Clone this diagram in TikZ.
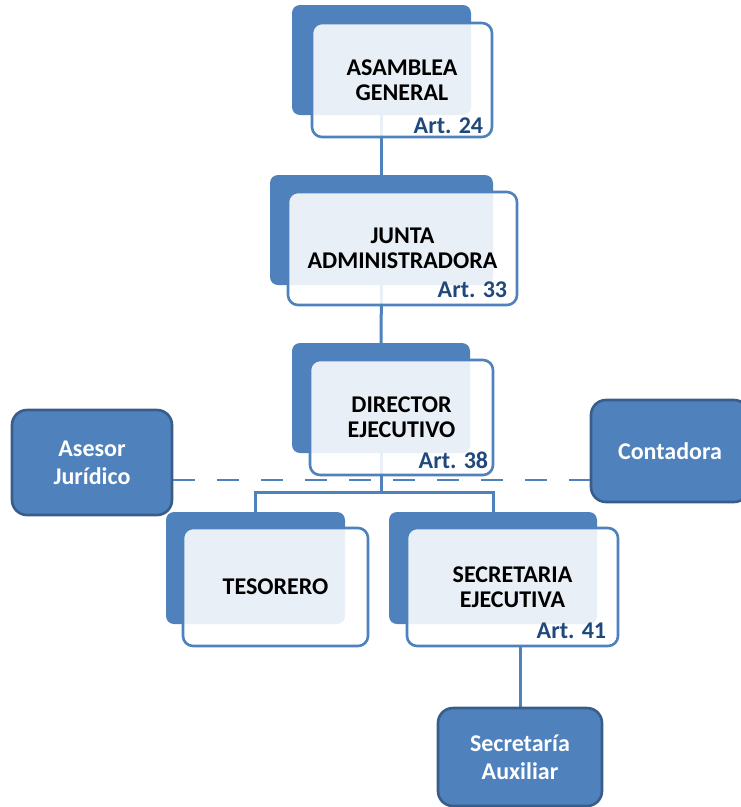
\documentclass[tikz,border=0pt]{standalone}
\usepackage{fontspec}
\setmainfont{Carlito}
\usetikzlibrary{backgrounds}
\definecolor{ofblue}{HTML}{4F81BD}
\definecolor{ofdark}{HTML}{385D8A}
\definecolor{artblue}{HTML}{1F497D}
\tikzset{
  backbox/.style={fill=ofblue, draw=none, rounded corners=8pt, inner sep=0pt},
  frontbox/.style={fill=white, fill opacity=0.88, text opacity=1, draw=ofblue, line width=2.6pt, rounded corners=10pt, inner sep=0pt, align=center, font=\bfseries\fontsize{24}{25}\selectfont, text=black},
  sidebox/.style={fill=ofblue, draw=ofdark, line width=2.6pt, rounded corners=15pt, inner sep=0pt, align=center, font=\bfseries\fontsize{24}{28}\selectfont, text=white},
  artlabel/.style={anchor=base east, inner sep=0pt, font=\bfseries\fontsize{24}{25}\selectfont, text=artblue},
  conn/.style={draw=ofblue, line width=3pt},
  dashconn/.style={draw=ofblue, line width=1.4pt, dash pattern=on 22pt off 22pt}
}
\begin{document}
\begin{tikzpicture}[x=1pt,y=-1pt]
\useasboundingbox (0,0) rectangle (740,807);
% back boxes
\node[backbox, minimum width=179pt, minimum height=110pt] (aB) at (381.5,60) {};
\node[backbox, minimum width=223pt, minimum height=110pt] (bB) at (381.5,230) {};
\node[backbox, minimum width=178pt, minimum height=110pt] (dB) at (381,398) {};
\node[backbox, minimum width=179pt, minimum height=112pt] (tB) at (255.5,568) {};
\node[backbox, minimum width=208pt, minimum height=112pt] (sB) at (493,568) {};
% connectors
\draw[conn] (aB.south) -- (bB.north);
\draw[conn] (bB.south) -- (dB.north);
\coordinate (br) at (381,492);
\draw[conn] (dB.south) -- (br);
\draw[conn] (tB.north) |- (br) -| (sB.north);
% front boxes
\node[frontbox, minimum width=180pt, minimum height=114pt] (aF) at (402,80) {ASAMBLEA\\GENERAL};
\node[frontbox, minimum width=229pt, minimum height=113pt] (bF) at (402.5,248.5) {JUNTA\\ADMINISTRADORA};
\node[frontbox, minimum width=183pt, minimum height=115pt] (dF) at (401.5,417.5) {DIRECTOR\\EJECUTIVO};
\node[frontbox, minimum width=185pt, minimum height=118pt] (tF) at (275.5,587) {TESORERO};
\node[frontbox, minimum width=211pt, minimum height=118pt] (sF) at (512.5,587) {SECRETARIA\\EJECUTIVA};
% article labels
\node[artlabel] (aA) at ([xshift=-10pt,yshift=5pt]aF.south east) {Art. 24};
\node[artlabel] (bA) at ([xshift=-11pt,yshift=9pt]bF.south east) {Art. 33};
\node[artlabel] (dA) at ([xshift=-6pt,yshift=8pt]dF.south east) {Art. 38};
\node[artlabel] (sA) at ([xshift=-13pt,yshift=9pt]sF.south east) {Art. 41};
% side boxes
\node[sidebox, minimum width=160pt, minimum height=105pt] (ase) at (92,462.5) {Asesor\\Jurídico};
\node[sidebox, minimum width=158pt, minimum height=102pt] (con) at (670,451) {Contadora};
\node[sidebox, minimum width=164pt, minimum height=98pt] (aux) at (520,757) {Secretaría\\Auxiliar};
% dashed line
\coordinate (dl) at (0,480);
\draw[dashconn] (ase.east |- dl) -- (con.west |- dl);
% line to auxiliar
\begin{scope}[on background layer]
\draw[conn] (aux.north) -- (aux.north |- sF.south);
\end{scope}
\end{tikzpicture}
\end{document}
